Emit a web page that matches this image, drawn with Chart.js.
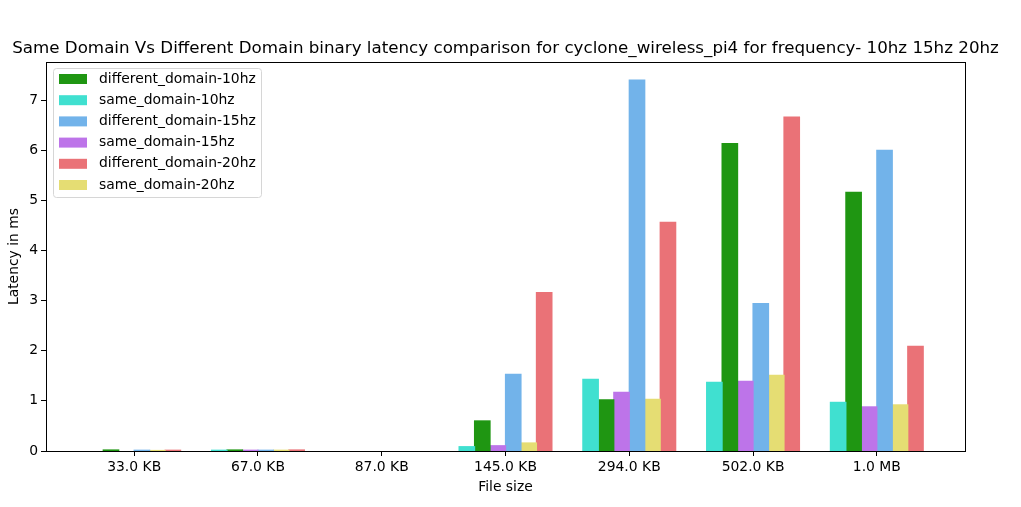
<!DOCTYPE html>
<html lang="en">
<head>
    <meta charset="UTF-8">
    <title>Same Domain Vs Different Domain binary latency</title>
    <script src="https://cdn.jsdelivr.net/npm/chart.js"></script>
    <style>
        body {
            margin: 0;
            background: #fff;
        }
        #wrap {
            width: 1021px;
            height: 507px;
        }
    </style>
</head>
<body>
    <div id="wrap"><canvas id="latencyChart"></canvas></div>

    <script>
        // values (ms), null = no bar
        const fileSizes = ["33.0 KB", "67.0 KB", "87.0 KB", "145.0 KB", "294.0 KB", "502.0 KB", "1.0 MB"];
        const sameDomain10 = [null, 0.015, null, 0.086, 1.43, 1.37, 0.97];
        const diffDomain10 = [0.02, 0.02, null, 0.60, 1.02, 6.13, 5.16];
        const sameDomain15 = [null, 0.015, null, 0.105, 1.17, 1.39, 0.88];
        const diffDomain15 = [0.015, 0.015, null, 1.53, 7.40, 2.94, 6.00];
        const sameDomain20 = [0.01, 0.015, null, 0.16, 1.03, 1.51, 0.92];
        const diffDomain20 = [0.015, 0.02, null, 3.16, 4.56, 6.66, 2.09];
        const yTicks = [0, 1, 2, 3, 4, 5, 6, 7];

        // bars are drawn same/different pairs, the legend lists different first
        const series = [
            { label: "same_domain-10hz", values: sameDomain10, color: "#40e0d0" },
            { label: "different_domain-10hz", values: diffDomain10, color: "#1f9612" },
            { label: "same_domain-15hz", values: sameDomain15, color: "#bd74e9" },
            { label: "different_domain-15hz", values: diffDomain15, color: "#72b3ea" },
            { label: "same_domain-20hz", values: sameDomain20, color: "#e5dd73" },
            { label: "different_domain-20hz", values: diffDomain20, color: "#ea7277" }
        ];
        const legendOrder = [1, 0, 3, 2, 5, 4];
        const chartTitle = "Same Domain Vs Different Domain binary latency comparison for cyclone_wireless_pi4 for frequency- 10hz 15hz 20hz";

        const baseFont = 13.9;
        Chart.defaults.font.family = "'DejaVu Sans', sans-serif";
        Chart.defaults.color = "#000";

        // axes box and title centred over the axes, like matplotlib
        const frame = {
            id: "frame",
            afterDraw(chart) {
                const { ctx, chartArea: a } = chart;
                ctx.save();
                ctx.strokeStyle = "#000";
                ctx.lineWidth = 1;
                ctx.strokeRect(Math.round(a.left) + 0.5, Math.round(a.top) + 0.5,
                    Math.round(a.right - a.left), Math.round(a.bottom - a.top));
                ctx.fillStyle = "#000";
                ctx.font = "16.7px 'DejaVu Sans', sans-serif";
                ctx.textAlign = "center";
                ctx.textBaseline = "middle";
                ctx.fillText(chartTitle, (a.left + a.right) / 2, a.top - 13);
                ctx.restore();
            }
        };

        // matplotlib style legend box in the upper left corner
        const boxLegend = {
            id: "boxLegend",
            afterDraw(chart) {
                const { ctx, chartArea: a } = chart;
                const x = a.left + 7, y = a.top + 6;
                const w = 208, h = 129, step = 21.2;
                ctx.save();
                ctx.fillStyle = "rgba(255,255,255,0.8)";
                ctx.strokeStyle = "#d6d6d6";
                ctx.lineWidth = 1;
                ctx.beginPath();
                ctx.roundRect(x + 0.5, y + 0.5, w, h, 3);
                ctx.fill();
                ctx.stroke();
                ctx.font = baseFont + "px 'DejaVu Sans', sans-serif";
                ctx.textBaseline = "middle";
                legendOrder.forEach((idx, row) => {
                    const ds = chart.data.datasets[idx];
                    const cy = y + 11 + row * step;
                    ctx.fillStyle = ds.backgroundColor;
                    ctx.fillRect(x + 6, cy - 5, 28, 10);
                    ctx.fillStyle = "#000";
                    ctx.fillText(ds.label, x + 46, cy);
                });
                ctx.restore();
            }
        };

        const ctx = document.getElementById("latencyChart").getContext("2d");
        new Chart(ctx, {
            type: "bar",
            data: {
                datasets: series.map(s => ({
                    label: s.label,
                    data: s.values.map((v, i) => ({ x: i, y: v })),
                    backgroundColor: s.color,
                    borderWidth: 0,
                    inflateAmount: 0.6,
                    categoryPercentage: 0.75,
                    barPercentage: 1
                }))
            },
            options: {
                responsive: true,
                maintainAspectRatio: false,
                animation: false,
                layout: { padding: { left: 0, right: 56, top: 62, bottom: 0 } },
                plugins: {
                    legend: { display: false },
                    tooltip: { enabled: false },
                    title: { display: false }
                },
                scales: {
                    x: {
                        type: "linear",
                        min: -0.7125,
                        max: 6.7125,
                        offset: false,
                        grid: { drawOnChartArea: false, tickLength: 5, color: "#000", offset: false },
                        border: { color: "#000" },
                        afterBuildTicks: scale => {
                            scale.ticks = fileSizes.map((_, i) => ({ value: i }));
                        },
                        afterFit: scale => { scale.height = 56; },
                        ticks: {
                            autoSkip: false,
                            maxRotation: 0,
                            padding: 3,
                            font: { size: baseFont },
                            callback: v => fileSizes[v]
                        },
                        title: {
                            display: true,
                            text: "File size",
                            font: { size: baseFont },
                            padding: { top: 0, bottom: 11 }
                        }
                    },
                    y: {
                        min: 0,
                        max: 7.76,
                        grid: { drawOnChartArea: false, tickLength: 5, color: "#000" },
                        border: { color: "#000" },
                        afterBuildTicks: scale => {
                            scale.ticks = yTicks.map(v => ({ value: v }));
                        },
                        afterFit: scale => { scale.width = 46; },
                        ticks: { padding: 3, font: { size: baseFont } },
                        title: {
                            display: true,
                            text: "Latency in ms",
                            font: { size: baseFont },
                            padding: { top: 6, bottom: 0 }
                        }
                    }
                }
            },
            plugins: [frame, boxLegend]
        });
    </script>
</body>
</html>
